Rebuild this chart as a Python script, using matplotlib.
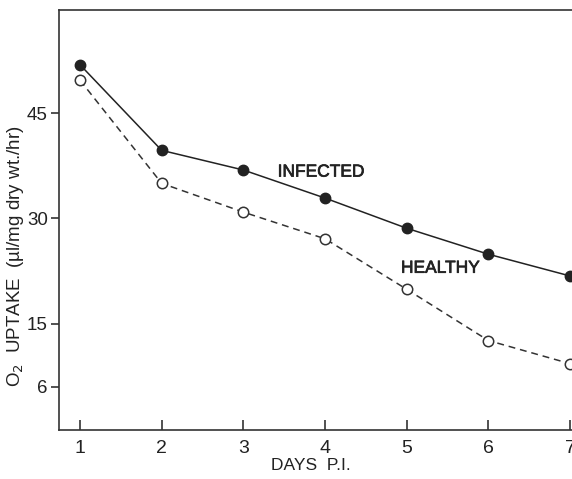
import matplotlib
matplotlib.use("Agg")
import matplotlib.pyplot as plt
import matplotlib.patheffects as pe

days = [1, 2, 3, 4, 5, 6, 7]
infected = [51.9, 39.7, 36.9, 32.9, 28.6, 24.9, 21.8]
healthy = [49.7, 35.0, 30.9, 27.1, 19.9, 12.6, 9.3]
yticks = [6, 15, 30, 45]
xticks = [1, 2, 3, 4, 5, 6, 7]

plt.rcParams['font.family'] = ['Liberation Sans', 'DejaVu Sans']

fig = plt.figure(figsize=(5.72, 4.79), dpi=100)
ax = fig.add_axes([59/572, 49/479, 1 - 59/572, (430 - 10)/479])

ax.plot(days, infected, color='#222222', lw=1.1, marker='o', ms=7.5,
        mfc='#222222', mec='#222222', clip_on=False, zorder=3)
ax.plot(days, healthy, color='#333333', lw=1.1, dashes=[4.5, 3.2], marker='o', ms=7.5,
        mfc='white', mec='#333333', mew=1.1, clip_on=False, zorder=3)

ax.set_xlim(0.743, 7.024)
ax.set_ylim(-0.15, 59.7)
ax.set_xticks(xticks)
ax.set_yticks(yticks)
ax.set_xticklabels([str(d) for d in xticks])
ax.set_yticklabels([str(v) for v in yticks])

for s in ['left', 'bottom', 'top']:
    ax.spines[s].set_color('#333333')
    ax.spines[s].set_linewidth(1.2)
ax.spines['right'].set_visible(False)

ax.tick_params(axis='x', direction='in', length=7, width=1.1, labelsize=14, pad=7, colors='#222222')
ax.tick_params(axis='y', direction='out', length=6, width=1.1, labelsize=13.5, pad=2, colors='#222222')

thick = [pe.withStroke(linewidth=0.5, foreground='#222222')]
ax.text(3.42, 36.6, 'INFECTED', fontsize=12.5, color='#222222', va='center', ha='left',
        path_effects=thick)
ax.text(4.93, 22.9, 'HEALTHY', fontsize=12.5, color='#222222', va='center', ha='left',
        path_effects=thick)

fig.text(311/572, 1 - 466/479, 'DAYS  P.I.', fontsize=12.5, color='#222222', ha='center', va='center')
fig.text(16/572, 1 - 256/479, 'O$_2$  UPTAKE  (µl/mg dry wt./hr)', fontsize=13.5,
         color='#222222', rotation=90, ha='center', va='center')

fig.savefig('out.png', dpi=100)
